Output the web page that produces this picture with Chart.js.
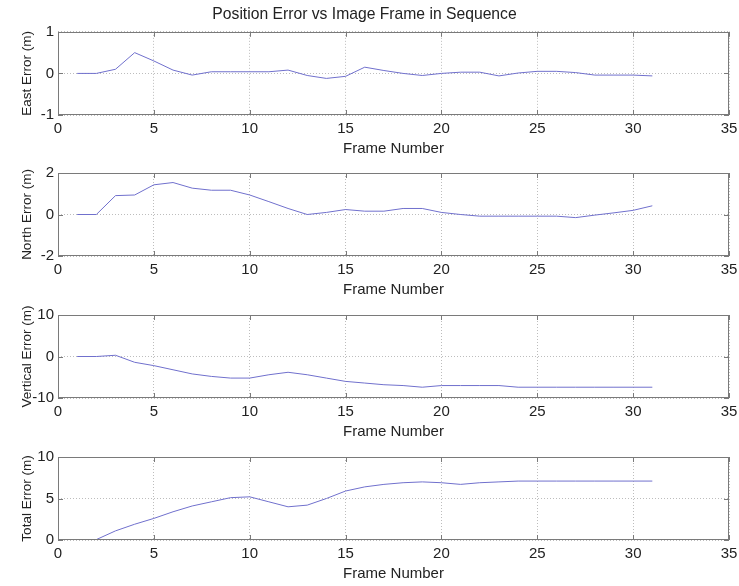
<!DOCTYPE html>
<html>
<head>
<meta charset="utf-8">
<script src="https://cdn.jsdelivr.net/npm/chart.js@4/dist/chart.umd.min.js"></script>
<style>
  body { margin: 0; background: #fff; width: 739px; height: 586px; position: relative; overflow: hidden; }
  canvas { position: absolute; left: 0; }
</style>
</head>
<body>
<canvas id="east" width="739" height="159" style="top:0px"></canvas>
<canvas id="north" width="739" height="141" style="top:159px"></canvas>
<canvas id="vertical" width="739" height="141" style="top:301px"></canvas>
<canvas id="total" width="739" height="141" style="top:443px"></canvas>
<script>
// --- DATI ---
const frames = [1, 2, 3, 4, 5, 6, 7, 8, 9, 10, 11, 12, 13, 14, 15, 16, 17, 18, 19, 20, 21, 22, 23, 24, 25, 26, 27, 28, 29, 30, 31];
const totalFrames = [1.5, 2, 3, 4, 5, 6, 7, 8, 9, 10, 11, 12, 13, 14, 15, 16, 17, 18, 19, 20, 21, 22, 23, 24, 25, 26, 27, 28, 29, 30, 31];

const eastError = [0, 0, 0.1, 0.5, 0.3, 0.08, -0.04, 0.04, 0.04, 0.04, 0.04, 0.08, -0.05, -0.12, -0.07, 0.15, 0.07, 0, -0.05, 0, 0.03, 0.03, -0.06, 0.01, 0.05, 0.05, 0.02, -0.04, -0.04, -0.04, -0.06];
const northError = [0, 0, 0.91, 0.94, 1.43, 1.54, 1.27, 1.17, 1.17, 0.94, 0.62, 0.29, 0, 0.1, 0.24, 0.16, 0.16, 0.29, 0.29, 0.1, 0, -0.08, -0.08, -0.08, -0.08, -0.08, -0.15, -0.03, 0.08, 0.2, 0.42];
const verticalError = [0, 0, 0.3, -1.4, -2.2, -3.2, -4.2, -4.8, -5.2, -5.2, -4.4, -3.8, -4.4, -5.2, -6.0, -6.4, -6.8, -7.0, -7.4, -7.0, -7.0, -7.0, -7.0, -7.4, -7.4, -7.4, -7.4, -7.4, -7.4, -7.4, -7.4];
const totalError = [0, 0.05, 1.1, 1.9, 2.6, 3.4, 4.1, 4.6, 5.1, 5.2, 4.6, 4.0, 4.2, 5.0, 5.9, 6.4, 6.7, 6.9, 7.0, 6.9, 6.7, 6.9, 7.0, 7.1, 7.1, 7.1, 7.1, 7.1, 7.1, 7.1, 7.1];

const xTickStep = 5;
const xRange = [0, 35];
const chartTitle = 'Position Error vs Image Frame in Sequence';
const xLabel = 'Frame Number';

const lineColor = 'rgb(112,112,205)';
const fontFamily = "'Liberation Sans', Arial, sans-serif";

// --- BOX + TACCHE INTERNE (stile MATLAB) ---
const boxPlugin = {
    id: 'box',
    afterDraw(chart) {
        const { ctx, chartArea: a, scales: { x, y } } = chart;
        ctx.save();
        ctx.strokeStyle = '#7a7a7a';
        ctx.lineWidth = 1;
        ctx.setLineDash([]);
        ctx.strokeRect(Math.round(a.left) + 0.5, Math.round(a.top) + 0.5, Math.round(a.width) - 1, Math.round(a.height) - 1);
        ctx.beginPath();
        x.ticks.forEach(t => {
            const px = Math.round(x.getPixelForValue(t.value)) + 0.5;
            ctx.moveTo(px, a.bottom); ctx.lineTo(px, a.bottom - 5);
            ctx.moveTo(px, a.top); ctx.lineTo(px, a.top + 5);
        });
        y.ticks.forEach(t => {
            const py = Math.round(y.getPixelForValue(t.value)) + 0.5;
            ctx.moveTo(a.left, py); ctx.lineTo(a.left + 5, py);
            ctx.moveTo(a.right, py); ctx.lineTo(a.right - 5, py);
        });
        ctx.stroke();
        ctx.restore();
    }
};

function makeChart(id, xs, ys, yTitle, yMin, yMax, yStep, withTitle) {
    const ctx = document.getElementById(id).getContext('2d');
    return new Chart(ctx, {
        type: 'line',
        data: {
            datasets: [{
                data: xs.map((f, i) => ({ x: f, y: ys[i] })),
                borderColor: lineColor,
                borderWidth: 1,
                pointRadius: 0,
                tension: 0,
                fill: false
            }]
        },
        options: {
            responsive: false,
            animation: false,
            layout: { padding: { top: withTitle ? 0 : 14, right: 10, left: 0, bottom: 0 } },
            plugins: {
                legend: { display: false },
                tooltip: { enabled: false },
                title: {
                    display: withTitle,
                    text: chartTitle,
                    color: '#222',
                    font: { family: fontFamily, size: 15.7, weight: 'normal' },
                    padding: { top: 5, bottom: 8 }
                }
            },
            scales: {
                x: {
                    type: 'linear',
                    min: xRange[0],
                    max: xRange[1],
                    afterFit: s => { s.height = 44; s.paddingLeft = 0; s.paddingRight = 0; },
                    ticks: { stepSize: xTickStep, padding: 5, color: '#222', font: { family: fontFamily, size: 15 } },
                    grid: { color: '#bdbdbd', drawTicks: false },
                    border: { display: false, dash: [1, 2] },
                    title: { display: true, text: xLabel, color: '#222', font: { family: fontFamily, size: 15 }, padding: { top: 0, bottom: 1 } }
                },
                y: {
                    min: yMin,
                    max: yMax,
                    afterFit: s => { s.width = 58; s.paddingTop = 0; s.paddingBottom = 0; },
                    ticks: { stepSize: yStep, padding: 4, color: '#222', font: { family: fontFamily, size: 15 } },
                    grid: { color: '#bdbdbd', drawTicks: false },
                    border: { display: false, dash: [1, 2] },
                    title: { display: true, text: yTitle, color: '#222', font: { family: fontFamily, size: 13.5 }, padding: { top: 19, bottom: 0 } }
                }
            }
        },
        plugins: [boxPlugin]
    });
}

makeChart('east', frames, eastError, 'East Error (m)', -1, 1, 1, true);
makeChart('north', frames, northError, 'North Error (m)', -2, 2, 2, false);
makeChart('vertical', frames, verticalError, 'Vertical Error (m)', -10, 10, 10, false);
makeChart('total', totalFrames, totalError, 'Total Error (m)', 0, 10, 5, false);
</script>
</body>
</html>
